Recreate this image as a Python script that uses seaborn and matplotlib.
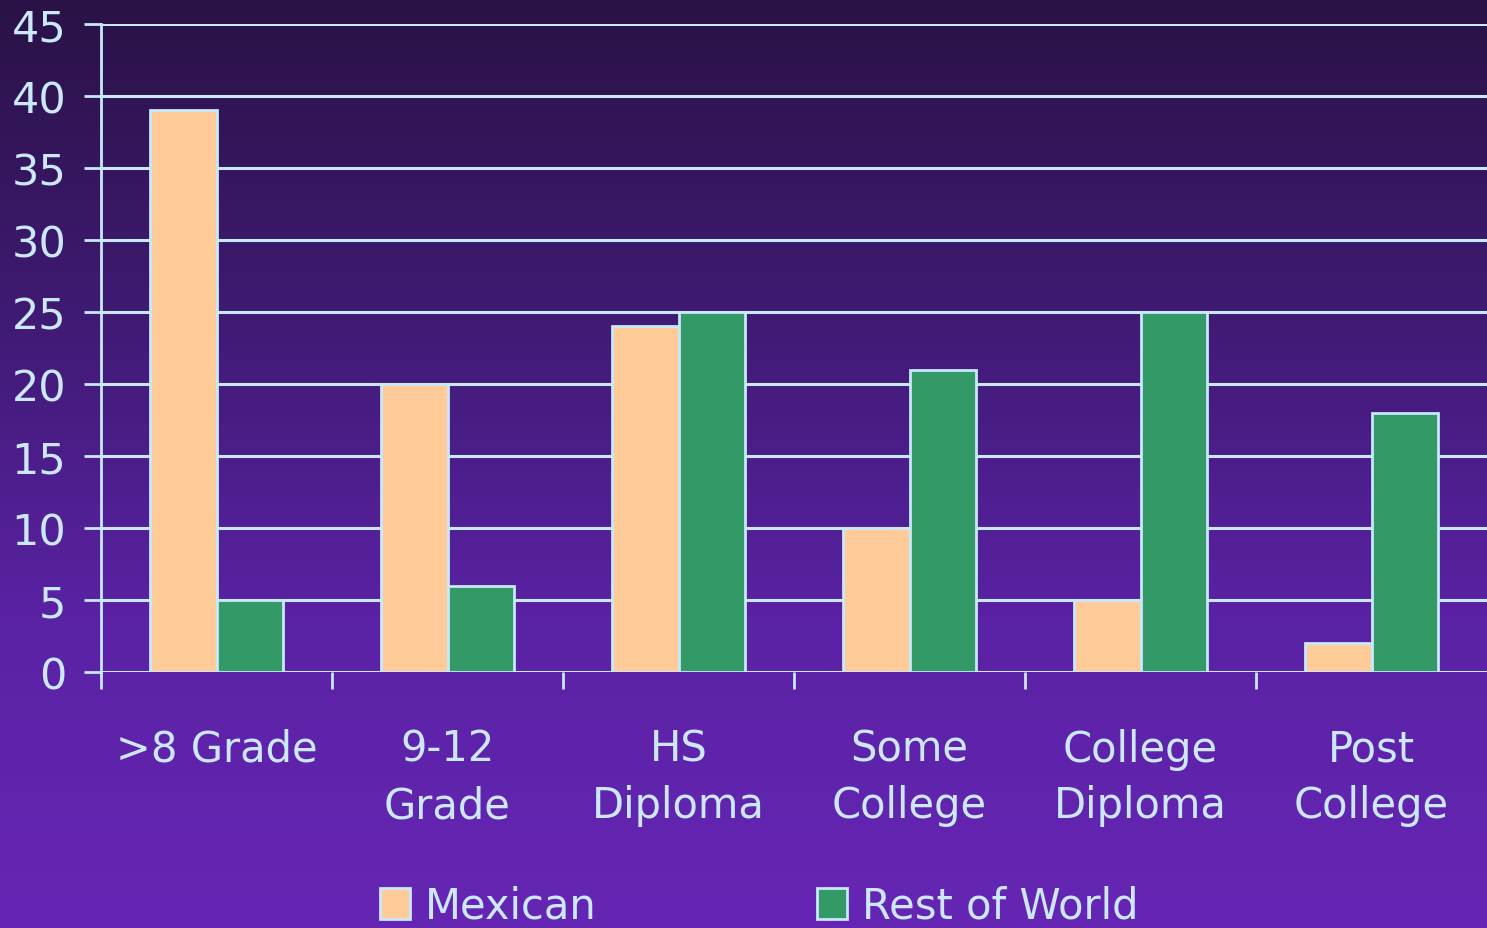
import numpy as np
import pandas as pd
import seaborn as sns
from matplotlib import pyplot as plt
from matplotlib.colors import LinearSegmentedColormap
from matplotlib.patches import Patch

categories = [">8 Grade", "9-12\nGrade", "HS\nDiploma", "Some\nCollege", "College\nDiploma", "Post\nCollege"]
mexican = [39, 20, 24, 10, 5, 2]
rest_of_world = [5, 6, 25, 21, 25, 18]
series = ["Mexican", "Rest of World"]
yticks = [0, 5, 10, 15, 20, 25, 30, 35, 40, 45]

TEXT = "#cce8ff"
LINE = "#c8e8fc"
colors = {"Mexican": "#ffcc99", "Rest of World": "#339966"}

df = pd.DataFrame({
    "category": categories * 2,
    "value": mexican + rest_of_world,
    "series": [series[0]] * len(categories) + [series[1]] * len(categories),
})

sns.set_style("white")
plt.rcParams["font.family"] = ["DejaVu Sans"]

fig = plt.figure(figsize=(14.87, 9.29), dpi=100)

# gradient background
bg = fig.add_axes([0, 0, 1, 1], zorder=0)
cmap = LinearSegmentedColormap.from_list("bg", ["#2a1246", "#3f1a72", "#5a22a4", "#6626b4"])
bg.imshow(np.linspace(0, 1, 256).reshape(-1, 1), aspect="auto", cmap=cmap, extent=[0, 1, 0, 1])
bg.set_axis_off()

ax = fig.add_axes([101 / 1487, 1 - 673 / 929, 1 - 101 / 1487, (673 - 25) / 929], zorder=1)
ax.set_facecolor("none")

sns.barplot(data=df, x="category", y="value", hue="series", order=categories,
            palette=colors, saturation=1, width=0.575, gap=0, edgecolor=LINE, linewidth=2,
            ax=ax, legend=False, zorder=3)

ax.set_ylim(0, 45)
ax.set_xlim(-0.5, len(categories) - 0.5)
ax.set_yticks(yticks)
ax.set_yticklabels([str(t) for t in yticks])
for t in yticks:
    ax.axhline(t, color=LINE, linewidth=2.2, zorder=1)

ax.set_xticks(np.arange(len(categories)) - 0.5)
ax.set_xticklabels([])
ax.set_xticks(np.arange(len(categories)), minor=True)
ax.set_xticklabels(categories, minor=True, linespacing=1.45)
ax.tick_params(axis="x", which="major", bottom=True, length=12, width=2, color=LINE, direction="out")
ax.tick_params(axis="x", which="minor", bottom=False, length=0, pad=40, labelsize=30, labelcolor=TEXT)
ax.tick_params(axis="y", left=True, length=12, width=2, color=LINE, direction="out", pad=13,
               labelsize=31, labelcolor=TEXT)

for name, spine in ax.spines.items():
    spine.set_visible(name == "left")
ax.spines["left"].set_color(LINE)
ax.spines["left"].set_linewidth(2)
ax.spines["left"].set_bounds(0, 45)
ax.set_xlabel("")
ax.set_ylabel("")

handles = [Patch(facecolor=colors[s], edgecolor=LINE, linewidth=2) for s in series]
fig.legend(handles, series, loc="upper left", bbox_to_anchor=(380 / 1487, 1 - 886 / 929),
           ncol=2, frameon=False, fontsize=30, labelcolor=TEXT, handlelength=0.72,
           handleheight=0.78, handletextpad=0.35, columnspacing=5.3,
           borderpad=0, borderaxespad=0)

fig.savefig("out.png", dpi=100)
